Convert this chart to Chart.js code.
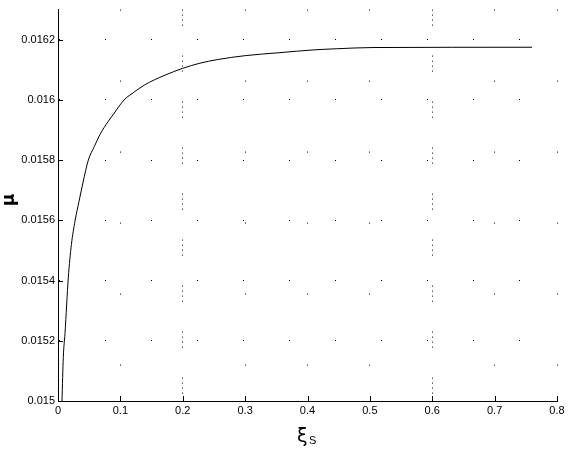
<!DOCTYPE html>
<html>
<head>
<meta charset="utf-8">
<script src="https://cdn.jsdelivr.net/npm/chart.js@4"></script>
<style>
  html, body { margin: 0; padding: 0; background: #fff; }
  #wrap { width: 570px; height: 449px; }
</style>
</head>
<body>
<div id="wrap"><canvas id="c" width="570" height="449"></canvas></div>
<script>
// --- data ---
const xi = [0.0064, 0.0085, 0.0112, 0.0165, 0.0215, 0.0272, 0.0337, 0.040, 0.0486, 0.0582,
            0.0673, 0.0806, 0.0902, 0.0982, 0.1074, 0.1207, 0.139, 0.170, 0.200, 0.2276,
            0.2556, 0.300, 0.3558, 0.4087, 0.447, 0.505, 0.76];
const mu = [0.01500, 0.015145, 0.015224, 0.015409, 0.01552, 0.015597, 0.015663, 0.015725, 0.0158, 0.015845,
            0.015885, 0.015929, 0.015956, 0.015980, 0.016003, 0.016024, 0.016050, 0.016081, 0.016105, 0.016122,
            0.016134, 0.016147, 0.016157, 0.016166, 0.01617, 0.016174, 0.016175];
const xTicks = [0, 0.1, 0.2, 0.3, 0.4, 0.5, 0.6, 0.7, 0.8];
const yTicks = [0.015, 0.0152, 0.0154, 0.0156, 0.0158, 0.016, 0.0162];

const fmt = v => String(parseFloat(v.toFixed(5)));
const tickFont = { family: 'Liberation Sans, Arial, sans-serif', size: 11 };

// inward tick marks + MATLAB-style axis labels
const matlabAxes = {
    id: 'matlabAxes',
    afterDraw(chart) {
        const { ctx, chartArea: a, scales: { x, y } } = chart;
        ctx.save();
        ctx.strokeStyle = '#000';
        ctx.lineWidth = 1;
        ctx.beginPath();
        xTicks.forEach(v => {
            const px = Math.round(x.getPixelForValue(v)) + 0.5;
            ctx.moveTo(px, a.bottom); ctx.lineTo(px, a.bottom - 5);
        });
        yTicks.forEach(v => {
            const py = Math.round(y.getPixelForValue(v)) + 0.5;
            ctx.moveTo(a.left, py); ctx.lineTo(a.left + 5, py);
        });
        ctx.stroke();

        ctx.fillStyle = '#000';
        ctx.textBaseline = 'alphabetic';
        ctx.font = '19px DejaVu Sans, sans-serif';
        ctx.fillText('ξ', 297, 442);
        ctx.font = '11px Liberation Sans, Arial, sans-serif';
        ctx.fillText('S', 309, 444);

        ctx.translate(14, 200);
        ctx.rotate(-Math.PI / 2);
        ctx.textAlign = 'center';
        ctx.font = 'bold 17px DejaVu Sans, sans-serif';
        ctx.fillText('μ', 0, 0);
        ctx.restore();
    }
};

new Chart(document.getElementById('c'), {
    type: 'scatter',
    data: {
        datasets: [{
            data: xi.map((v, i) => ({ x: v, y: mu[i] })),
            showLine: true,
            borderColor: '#000',
            borderWidth: 1,
            pointRadius: 0,
            cubicInterpolationMode: 'monotone'
        }]
    },
    options: {
        responsive: false,
        animation: false,
        layout: { padding: { top: 7, right: 13, left: 0, bottom: 0 } },
        plugins: { legend: { display: false }, tooltip: { enabled: false } },
        scales: {
            x: {
                type: 'linear',
                min: 0, max: 0.8,
                afterFit: s => { s.height = 48; },
                afterBuildTicks: s => { s.ticks = xTicks.map(v => ({ value: v })); },
                ticks: { callback: fmt, color: '#000', font: tickFont, padding: 3, maxRotation: 0 },
                grid: {
                    drawTicks: false,
                    color: '#000',
                    lineWidth: 1
                },
                border: {
                    display: true, color: '#000', width: 1,
                    dash: ctx => (ctx.tick && (ctx.tick.value === 0.2 || ctx.tick.value === 0.6)) ? [1, 4, 1, 4, 1, 4, 1, 30] : [1, 70],
                    dashOffset: 0
                }
            },
            y: {
                type: 'linear',
                min: 0.015, max: 0.0163,
                afterFit: s => { s.width = 58; },
                afterBuildTicks: s => { s.ticks = yTicks.map(v => ({ value: v })); },
                ticks: { callback: fmt, color: '#000', font: tickFont, padding: 3 },
                grid: {
                    drawTicks: false,
                    color: ctx => (ctx.tick && ctx.tick.value === 0.015) ? 'rgba(0,0,0,0)' : '#000',
                    lineWidth: 1
                },
                border: { display: true, color: '#000', width: 1, dash: [1, 45] }
            }
        }
    },
    plugins: [matlabAxes]
});
</script>
</body>
</html>
